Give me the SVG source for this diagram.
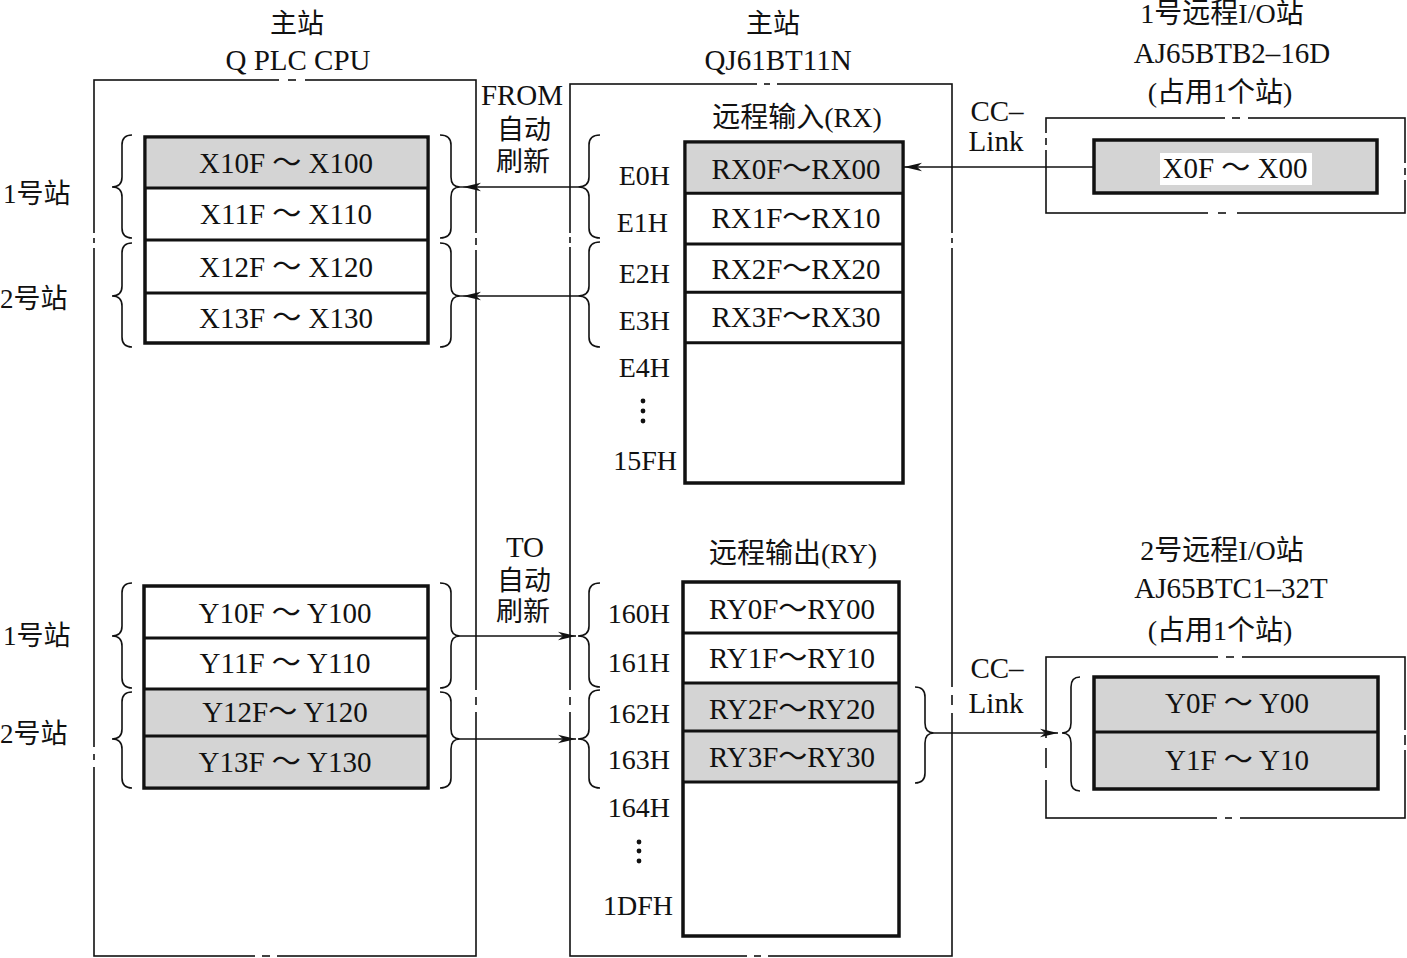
<svg xmlns="http://www.w3.org/2000/svg" width="1407" height="958" viewBox="0 0 1407 958">
<defs>
<style>
text{font-family:"Liberation Serif","Noto Sans CJK SC",serif;fill:#111;}
.t{font-size:29px;text-anchor:middle;}
.c{font-size:27px;text-anchor:middle;}
.h{font-size:28px;text-anchor:end;}
.lab{font-size:27px;}
.outer{fill:none;stroke:#111;stroke-width:1.6;}
.tbl{fill:#fff;stroke:#111;stroke-width:3.5;}
.gray{fill:#d4d4d4;}
.div{stroke:#111;stroke-width:3;}
.brace{fill:none;stroke:#111;stroke-width:1.6;}
.conn{fill:none;stroke:#111;stroke-width:1.4;}
.gap{stroke:#fff;stroke-width:4;}
.dash{stroke:#111;stroke-width:1.6;}
</style>
<marker id="ah" markerUnits="userSpaceOnUse" markerWidth="18" markerHeight="10" refX="18" refY="5" orient="auto">
<path d="M0,0.8 L18,5 L0,9.2 L5,5 Z" fill="#111"/>
</marker>
</defs>
<rect width="1407" height="958" fill="#fff"/>

<!-- Master station Q PLC CPU -->
<g id="plc">
<text class="c" x="297" y="33">主站</text>
<text class="t" x="298" y="70">Q PLC CPU</text>
<rect class="outer" x="94" y="80" width="382" height="876"/>
<line class="gap" x1="279" y1="80" x2="305" y2="80"/><line class="dash" x1="288" y1="80" x2="296" y2="80"/>
<line class="gap" x1="255" y1="956" x2="277" y2="956"/><line class="dash" x1="262" y1="956" x2="270" y2="956"/>
<line class="gap" x1="94" y1="233" x2="94" y2="248"/><line class="dash" x1="94" y1="238" x2="94" y2="243"/>
<line class="gap" x1="94" y1="747" x2="94" y2="767"/><line class="dash" x1="94" y1="754" x2="94" y2="760"/>
<line class="gap" x1="476" y1="233" x2="476" y2="250"/><line class="dash" x1="476" y1="238" x2="476" y2="245"/>
<line class="gap" x1="476" y1="690" x2="476" y2="712"/><line class="dash" x1="476" y1="697" x2="476" y2="705"/>
</g>

<g id="x-table">
<rect class="tbl" x="145" y="137" width="283" height="206"/>
<rect class="gray" x="146.8" y="138.8" width="279.4" height="49.2"/>
<line class="div" x1="145" y1="188" x2="428" y2="188"/>
<line class="div" x1="145" y1="240" x2="428" y2="240"/>
<line class="div" x1="145" y1="293" x2="428" y2="293"/>
<text class="t" x="286" y="173">X10F ～ X100</text>
<text class="t" x="286" y="224">X11F ～ X110</text>
<text class="t" x="286" y="277">X12F ～ X120</text>
<text class="t" x="286" y="328">X13F ～ X130</text>
</g>

<g id="y-table">
<rect class="tbl" x="144" y="586" width="284" height="202"/>
<rect class="gray" x="145.8" y="689" width="280.4" height="97.2"/>
<line class="div" x1="144" y1="638" x2="428" y2="638"/>
<line class="div" x1="144" y1="689" x2="428" y2="689"/>
<line class="div" x1="144" y1="736" x2="428" y2="736"/>
<text class="t" x="285" y="623">Y10F ～ Y100</text>
<text class="t" x="285" y="673">Y11F ～ Y110</text>
<text class="t" x="285" y="722">Y12F～ Y120</text>
<text class="t" x="285" y="772">Y13F ～ Y130</text>
</g>

<g id="station-labels">
<text class="lab" x="3" y="203">1号站</text>
<text class="lab" x="0" y="308">2号站</text>
<text class="lab" x="3" y="645">1号站</text>
<text class="lab" x="0" y="743">2号站</text>
</g>

<!-- Master station QJ61BT11N -->
<g id="qj61">
<text class="c" x="773" y="33">主站</text>
<text class="t" x="778" y="70">QJ61BT11N</text>
<rect class="outer" x="570" y="84" width="382" height="872"/>
<line class="gap" x1="757" y1="84" x2="777" y2="84"/><line class="dash" x1="764" y1="84" x2="770" y2="84"/>
<line class="gap" x1="747" y1="956" x2="768" y2="956"/><line class="dash" x1="754" y1="956" x2="761" y2="956"/>
<line class="gap" x1="570" y1="233" x2="570" y2="247"/><line class="dash" x1="570" y1="237" x2="570" y2="243"/>
<line class="gap" x1="570" y1="690" x2="570" y2="712"/><line class="dash" x1="570" y1="697" x2="570" y2="705"/>
<line class="gap" x1="952" y1="233" x2="952" y2="248"/><line class="dash" x1="952" y1="238" x2="952" y2="243"/>
<line class="gap" x1="952" y1="687" x2="952" y2="713"/><line class="dash" x1="952" y1="695" x2="952" y2="705"/>
</g>

<g id="rx-table">
<text class="t" x="797" y="127" style="font-size:28px">远程输入(RX)</text>
<rect class="tbl" x="685" y="142" width="218" height="341"/>
<rect class="gray" x="686.8" y="143.8" width="214.4" height="49.5"/>
<line class="div" x1="685" y1="193.3" x2="903" y2="193.3"/>
<line class="div" x1="685" y1="244" x2="903" y2="244"/>
<line class="div" x1="685" y1="292.3" x2="903" y2="292.3"/>
<line class="div" x1="685" y1="342.7" x2="903" y2="342.7"/>
<text class="t" x="796" y="179">RX0F～RX00</text>
<text class="t" x="796" y="228">RX1F～RX10</text>
<text class="t" x="796" y="279">RX2F～RX20</text>
<text class="t" x="796" y="327">RX3F～RX30</text>
<text class="h" x="670" y="185">E0H</text>
<text class="h" x="668" y="232">E1H</text>
<text class="h" x="670" y="283">E2H</text>
<text class="h" x="670" y="330">E3H</text>
<text class="h" x="670" y="377">E4H</text>
<circle cx="643" cy="401" r="2.4" fill="#111"/>
<circle cx="643" cy="411" r="2.4" fill="#111"/>
<circle cx="643" cy="421" r="2.4" fill="#111"/>
<text class="h" x="677" y="470">15FH</text>
</g>

<g id="ry-table">
<text class="t" x="793" y="563" style="font-size:28px">远程输出(RY)</text>
<rect class="tbl" x="683" y="582" width="216" height="354"/>
<rect class="gray" x="684.8" y="683" width="212.4" height="99"/>
<line class="div" x1="683" y1="633" x2="899" y2="633"/>
<line class="div" x1="683" y1="683" x2="899" y2="683"/>
<line class="div" x1="683" y1="731" x2="899" y2="731"/>
<line class="div" x1="683" y1="782" x2="899" y2="782"/>
<text class="t" x="792" y="619">RY0F～RY00</text>
<text class="t" x="792" y="668">RY1F～RY10</text>
<text class="t" x="792" y="719">RY2F～RY20</text>
<text class="t" x="792" y="767">RY3F～RY30</text>
<text class="h" x="670" y="623">160H</text>
<text class="h" x="670" y="672">161H</text>
<text class="h" x="670" y="723">162H</text>
<text class="h" x="670" y="769">163H</text>
<text class="h" x="670" y="817">164H</text>
<circle cx="639" cy="842" r="2.4" fill="#111"/>
<circle cx="639" cy="851" r="2.4" fill="#111"/>
<circle cx="639" cy="861" r="2.4" fill="#111"/>
<text class="h" x="673" y="915">1DFH</text>
</g>

<!-- Remote I/O station 1 -->
<g id="remote1">
<text class="t" x="1222" y="23" style="font-size:28px">1号远程I/O站</text>
<text class="t" x="1232" y="63">AJ65BTB2–16D</text>
<text class="t" x="1220" y="102" style="font-size:28px">(占用1个站)</text>
<rect class="outer" x="1046" y="118" width="359" height="95"/>
<line class="gap" x1="1225" y1="118" x2="1248" y2="118"/><line class="dash" x1="1232" y1="118" x2="1240" y2="118"/>
<line class="gap" x1="1208" y1="213" x2="1237" y2="213"/><line class="dash" x1="1218" y1="213" x2="1226" y2="213"/>
<line class="gap" x1="1046" y1="133" x2="1046" y2="150"/><line class="dash" x1="1046" y1="138" x2="1046" y2="145"/>
<line class="gap" x1="1405" y1="163" x2="1405" y2="180"/><line class="dash" x1="1405" y1="168" x2="1405" y2="175"/>
<rect class="tbl gray" x="1094" y="140" width="283" height="53"/>
<rect x="1160" y="153" width="152" height="32" fill="#fff"/>
<text class="t" x="1235" y="178">X0F ～ X00</text>
</g>

<!-- Remote I/O station 2 -->
<g id="remote2">
<text class="t" x="1222" y="560" style="font-size:28px">2号远程I/O站</text>
<text class="t" x="1231" y="598">AJ65BTC1–32T</text>
<text class="t" x="1220" y="640" style="font-size:28px">(占用1个站)</text>
<rect class="outer" x="1046" y="657" width="359" height="161"/>
<line class="gap" x1="1218" y1="657" x2="1242" y2="657"/><line class="dash" x1="1226" y1="657" x2="1234" y2="657"/>
<line class="gap" x1="1217" y1="818" x2="1240" y2="818"/><line class="dash" x1="1225" y1="818" x2="1232" y2="818"/>
<line class="gap" x1="1046" y1="738" x2="1046" y2="780"/><line class="dash" x1="1046" y1="748" x2="1046" y2="768"/>
<line class="gap" x1="1405" y1="730" x2="1405" y2="750"/><line class="dash" x1="1405" y1="735" x2="1405" y2="745"/>
<rect class="tbl gray" x="1094" y="677" width="284" height="112"/>
<line class="div" x1="1094" y1="732" x2="1378" y2="732"/>
<text class="t" x="1237" y="713">Y0F ～ Y00</text>
<text class="t" x="1237" y="770">Y1F ～ Y10</text>
</g>

<g id="braces">
<path class="brace" d="M132,135 Q122,135 122,145 L122,177 Q122,187 112,187 Q122,187 122,197 L122,228 Q122,238 132,238"/>
<path class="brace" d="M132,243 Q122,243 122,253 L122,286 Q122,296 112,296 Q122,296 122,306 L122,337 Q122,347 132,347"/>
<path class="brace" d="M440,135 Q451,135 451,145 L451,177 Q451,187 460,187 Q451,187 451,197 L451,228 Q451,238 440,238"/>
<path class="brace" d="M440,243 Q451,243 451,253 L451,286 Q451,296 460,296 Q451,296 451,306 L451,337 Q451,347 440,347"/>
<path class="brace" d="M600,135 Q589,135 589,145 L589,177 Q589,187 578,187 Q589,187 589,197 L589,228 Q589,238 600,238"/>
<path class="brace" d="M600,242 Q589,242 589,252 L589,286 Q589,296 578,296 Q589,296 589,306 L589,337 Q589,347 600,347"/>
<path class="brace" d="M132,583 Q122,583 122,593 L122,626 Q122,636 112,636 Q122,636 122,646 L122,678 Q122,688 132,688"/>
<path class="brace" d="M132,692 Q122,692 122,702 L122,729 Q122,739 112,739 Q122,739 122,749 L122,778 Q122,788 132,788"/>
<path class="brace" d="M440,583 Q451,583 451,593 L451,626 Q451,636 460,636 Q451,636 451,646 L451,678 Q451,688 440,688"/>
<path class="brace" d="M440,692 Q451,692 451,702 L451,729 Q451,739 460,739 Q451,739 451,749 L451,778 Q451,788 440,788"/>
<path class="brace" d="M600,583 Q589,583 589,593 L589,626 Q589,636 578,636 Q589,636 589,646 L589,677 Q589,687 600,687"/>
<path class="brace" d="M600,690 Q589,690 589,700 L589,729 Q589,739 578,739 Q589,739 589,749 L589,778 Q589,788 600,788"/>
<path class="brace" d="M915,687 Q925,687 925,697 L925,723 Q925,733 934,733 Q925,733 925,743 L925,773 Q925,783 915,783"/>
<path class="brace" d="M1080,677 Q1071,677 1071,687 L1071,723 Q1071,733 1062,733 Q1071,733 1071,743 L1071,781 Q1071,791 1080,791"/>
</g>

<g id="connectors">
<path class="conn" d="M1094,167 L904,167" marker-end="url(#ah)"/>
<path class="conn" d="M578,187 L463,187" marker-end="url(#ah)"/>
<path class="conn" d="M463,187 L460,187"/>
<path class="conn" d="M578,296 L463,296" marker-end="url(#ah)"/>
<path class="conn" d="M463,296 L460,296"/>
<path class="conn" d="M460,636 L576,636" marker-end="url(#ah)"/>
<path class="conn" d="M460,739 L576,739" marker-end="url(#ah)"/>
<path class="conn" d="M934,733 L1058,733" marker-end="url(#ah)"/>
</g>

<g id="connector-labels">
<text class="t" x="522" y="105">FROM</text>
<text class="c" x="524" y="139">自动</text>
<text class="c" x="523" y="171">刷新</text>
<text class="t" x="525" y="557">TO</text>
<text class="c" x="524" y="590">自动</text>
<text class="c" x="523" y="621">刷新</text>
<text class="t" x="997" y="121">CC–</text>
<text class="t" x="996" y="151">Link</text>
<text class="t" x="997" y="678">CC–</text>
<text class="t" x="996" y="713">Link</text>
</g>
</svg>
